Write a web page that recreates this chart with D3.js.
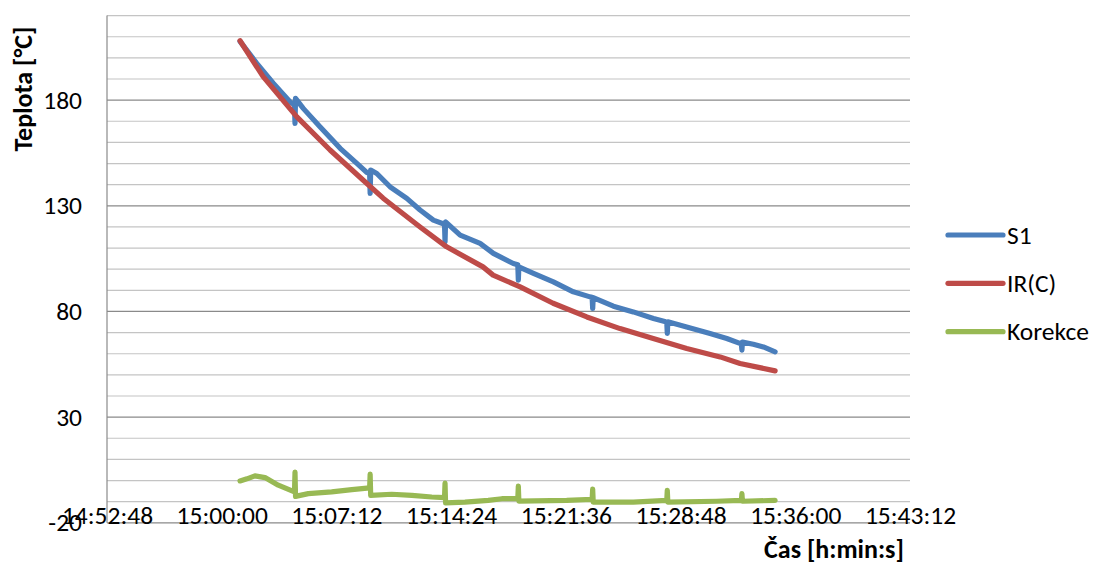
<!DOCTYPE html>
<html>
<head>
<meta charset="utf-8">
<script src="https://cdn.jsdelivr.net/npm/d3@7"></script>
<style>
  html, body { margin: 0; padding: 0; background: #ffffff; }
  svg { display: block; }
  text { font-family: Carlito, Calibri, Lato, "Liberation Sans", sans-serif; fill: #000; }
</style>
</head>
<body>
<svg id="chart" width="1094" height="565"></svg>
<script>
// Cooling curves: contact sensor S1, infrared reading IR(C) and their correction.
const xTickLabels = ["14:52:48", "15:00:00", "15:07:12", "15:14:24", "15:21:36", "15:28:48", "15:36:00", "15:43:12"];
const yTickValues = [-20, 30, 80, 130, 180];
const yDomain = [-20, 220];
const yMinorStep = 10;

const s1Times = ["15:01:09","15:02:12","15:03:14","15:04:17","15:04:34","15:04:36","15:04:38","15:05:07","15:06:10","15:07:26",
  "15:08:29","15:09:07","15:09:17","15:09:19","15:09:21","15:09:44","15:10:34","15:11:37","15:12:27","15:13:17","15:13:59",
  "15:14:01","15:14:03","15:14:58","15:16:13","15:17:03","15:18:18","15:18:35","15:18:37","15:18:39","15:19:34","15:20:49",
  "15:22:04","15:23:07","15:23:15","15:23:17","15:23:19","15:24:35","15:25:50","15:27:06","15:27:52","15:27:56","15:27:58","15:28:00",
  "15:29:11","15:30:39","15:31:42","15:32:34","15:32:37","15:32:39","15:32:41","15:33:22","15:34:00","15:34:44"];
const s1Values = [207.8,197.4,188.0,179.2,177.7,169.0,180.8,176.1,167.4,157.2,
  150.1,145.7,145.3,135.9,146.9,145.3,139.0,133.5,128.0,123.2,121.3,
  112.9,122.4,116.1,112.2,107.5,102.7,102.1,94.8,101.1,98.0,94.0,
  89.3,86.9,86.7,81.4,86.6,82.5,79.8,76.7,75.1,75.0,69.6,75.1,
  72.7,69.6,67.2,64.8,64.7,61.7,65.5,64.5,63.2,60.9];

const irTimes = ["15:01:09","15:02:36","15:04:43","15:06:48","15:08:52","15:10:08","15:12:27","15:14:07","15:16:24","15:17:02",
  "15:18:44","15:20:48","15:22:55","15:25:00","15:27:05","15:29:11","15:31:17","15:32:32","15:34:44"];
const irValues = [208.1,191.1,172.1,156.4,142.2,133.6,120.0,110.6,101.1,97.2,
  91.6,83.9,77.4,71.9,67.2,62.5,58.5,55.4,51.9];

const korTimes = ["15:01:09","15:01:35","15:02:05","15:02:43","15:03:33","15:04:34","15:04:36","15:04:38","15:05:26","15:06:54",
  "15:08:10","15:09:17","15:09:19","15:09:21","15:10:40","15:11:56","15:13:11","15:13:59","15:14:01","15:14:03",
  "15:15:16","15:16:44","15:17:35","15:18:35","15:18:37","15:18:39","15:21:39","15:23:15","15:23:17","15:23:19",
  "15:25:50","15:27:56","15:27:58","15:28:00","15:31:04","15:32:37","15:32:39","15:32:41","15:34:44"];
const korValues = [-0.2,0.8,2.2,1.4,-2.2,-5.4,4.0,-7.5,-6.2,-5.4,
  -4.3,-3.5,3.0,-7.0,-6.5,-7.0,-7.8,-8.1,-1.2,-10.6,
  -10.2,-9.4,-8.6,-8.6,-2.6,-9.7,-9.4,-8.9,-4.1,-10.2,
  -10.2,-9.4,-4.6,-10.2,-9.8,-9.4,-6.2,-9.8,-9.4];

const seriesNames = ["S1", "IR(C)", "Korekce"];
const seriesColors = ["#4a7ebb", "#be4b48", "#98b954"];

function toSec(s) {
  const [h, m, sec] = s.split(":").map(Number);
  return h * 3600 + m * 60 + sec;
}

const series = [
  { name: seriesNames[0], color: seriesColors[0], pts: s1Times.map((t, i) => [toSec(t), s1Values[i]]) },
  { name: seriesNames[1], color: seriesColors[1], pts: irTimes.map((t, i) => [toSec(t), irValues[i]]) },
  { name: seriesNames[2], color: seriesColors[2], pts: korTimes.map((t, i) => [toSec(t), korValues[i]]) }
];

const plot = { left: 107, right: 910, top: 15.6, bottom: 522.8 };
const fontSize = 25.5;
const svg = d3.select("#chart");

const x = d3.scaleLinear()
  .domain([toSec(xTickLabels[0]), toSec(xTickLabels[xTickLabels.length - 1])])
  .range([plot.left, plot.right]);
const y = d3.scaleLinear().domain(yDomain).range([plot.bottom, plot.top]);

// horizontal gridlines: light minor lines, darker major lines
const minorVals = d3.range(yDomain[0], yDomain[1] + 0.001, yMinorStep).filter(v => !yTickValues.includes(v));
svg.append("g").selectAll("line").data(minorVals).join("line")
  .attr("x1", plot.left).attr("x2", plot.right)
  .attr("y1", d => y(d)).attr("y2", d => y(d))
  .attr("stroke", "#c4c4c4").attr("stroke-width", 1.2);
svg.append("g").selectAll("line").data(yTickValues).join("line")
  .attr("x1", plot.left).attr("x2", plot.right)
  .attr("y1", d => y(d)).attr("y2", d => y(d))
  .attr("stroke", "#8a8a8a").attr("stroke-width", 1.2);

// vertical axis line
svg.append("line")
  .attr("x1", plot.left).attr("x2", plot.left)
  .attr("y1", plot.top).attr("y2", plot.bottom)
  .attr("stroke", "#8a8a8a").attr("stroke-width", 1.2);

// y tick labels
const yAxis = svg.append("g")
  .attr("transform", `translate(${plot.left - 25},0)`)
  .call(d3.axisLeft(y).tickValues(yTickValues).tickSize(0).tickPadding(0).tickFormat(d => String(d)));
yAxis.select(".domain").remove();
yAxis.selectAll("text").attr("font-size", fontSize).style("font-family", null);

// x tick labels
const xAxis = svg.append("g")
  .attr("transform", `translate(0,${plot.bottom + 1})`)
  .call(d3.axisBottom(x).tickValues(xTickLabels.map(toSec)).tickSize(0).tickPadding(0)
    .tickFormat((d, i) => xTickLabels[i]));
xAxis.select(".domain").remove();
xAxis.selectAll("text").attr("y", 0).attr("dy", 0).attr("font-size", fontSize).style("font-family", null);

// axis titles
svg.append("text")
  .attr("transform", "translate(32,89) rotate(-90)")
  .attr("text-anchor", "middle")
  .attr("font-size", 26).attr("font-weight", "bold")
  .text("Teplota [°C]");
svg.append("text")
  .attr("x", 834).attr("y", 558)
  .attr("text-anchor", "middle")
  .attr("font-size", 26).attr("font-weight", "bold")
  .text("Čas [h:min:s]");

// data lines
const line = d3.line().x(d => x(d[0])).y(d => y(d[1]));
svg.append("g").selectAll("path").data(series).join("path")
  .attr("d", d => line(d.pts))
  .attr("fill", "none")
  .attr("stroke", d => d.color)
  .attr("stroke-width", 5.2)
  .attr("stroke-linejoin", "round")
  .attr("stroke-linecap", "round");

// legend
const legendY = [235, 283.3, 331.7];
const legend = svg.append("g").selectAll("g").data(series).join("g")
  .attr("transform", (d, i) => `translate(948,${legendY[i]})`);
legend.append("line")
  .attr("x1", 0).attr("x2", 55).attr("y1", 0).attr("y2", 0)
  .attr("stroke", d => d.color).attr("stroke-width", 5.2).attr("stroke-linecap", "round");
legend.append("text")
  .attr("x", 59).attr("y", 0).attr("dy", "0.34em")
  .attr("font-size", fontSize)
  .text(d => d.name);
</script>
</body>
</html>
